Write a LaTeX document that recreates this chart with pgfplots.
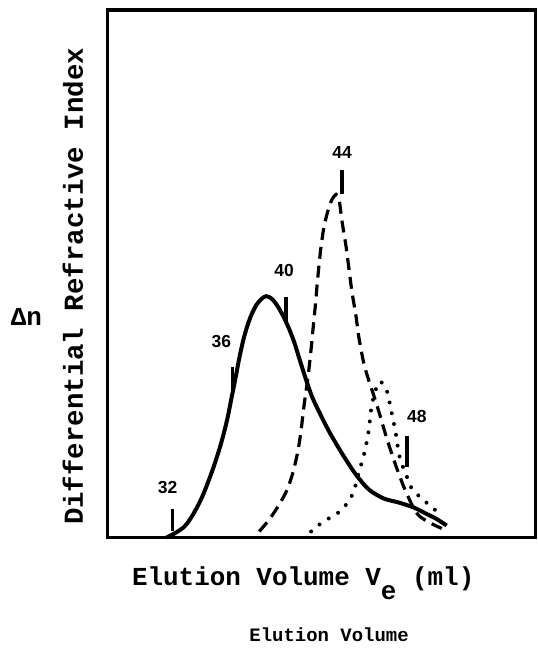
\documentclass[border=0pt]{standalone}
\usepackage{fontspec}
\setmainfont{Liberation Mono}
\newfontfamily\numfont{Liberation Sans}
\usepackage{pgfplots}
\pgfplotsset{compat=1.18}

% one unit = one pixel of the 539x648 reference, y counted up from the bottom line
\pgfplotstableread{
x y
167 0
175 4
185 11
193 22
202 39
210 59
217 79
223 99
228 119
232 139
236 159
240 180
244 198
248 212
252 223
257 233
262 239
267 242
273 239
279 231
285 220
290 209
295 196
300 180
307 158
313 141
320 126
327 112
333 101
345 81
357 63
370 48
385 39
400 35
415 30
427 24
437 19
448 12
}\solidcurve

\pgfplotstableread{
x y
260 6
270 18
280 33
288 48
294 66
299 88
302 108
305 133
309 162
312 189
314 210
316 230
318 253
320 274
322 292
325 312
329 328
333 339
337 344
340 339
343 317
347 292
350 269
353 246
357 222
360 200
365 174
370 157
375 142
380 126
388 99
397 72
407 46
420 22
443 9
}\dashedcurve

\pgfplotstableread{
x y
312 6
323 15
333 21
342 27
350 37
355 47
360 66
364 79
367 92
370 109
372 127
375 142
380 156
385 153
388 147
391 134
394 119
397 104
400 84
404 71
408 61
413 49
423 39
437 27
442 21
}\dottedcurve

\begin{document}
\begin{tikzpicture}
\begin{axis}[
  x=0.5pt, y=0.5pt,
  xmin=108, xmax=537,
  ymin=0, ymax=529,
  xtick=\empty, ytick=\empty,
  axis line style={line width=1.8pt},
  clip=false,
  xlabel={\bfseries Elution Volume V\raisebox{-0.55em}{e} (ml)},
  xlabel style={font=\fontsize{13}{15}\selectfont, at={(axis description cs:0.457,-0.0907)}, anchor=base},
  ylabel={\bfseries Differential Refractive Index},
  ylabel style={font=\fontsize{13.75}{16}\selectfont, at={(axis description cs:-0.058,0.476)}, anchor=base},
]
  \path (axis cs:0,-109) rectangle (axis cs:539,539);

  \addplot[black, line width=2pt, smooth, tension=0.5] table {\solidcurve};
  \addplot[black, line width=1.6pt, smooth, tension=0.5, dash pattern=on 6pt off 3.5pt] table {\dashedcurve};
  \addplot[black, line width=2pt, smooth, tension=0.5, line cap=round, dash pattern=on 0pt off 5.5pt] table {\dottedcurve};

  % volume markers
  \addplot[black, line width=1.7pt] coordinates {(173,6) (173,29)};
  \addplot[black, line width=1.7pt] coordinates {(233,141) (233,171)};
  \addplot[black, line width=1.7pt] coordinates {(287,216) (287,241)};
  \addplot[black, line width=1.7pt] coordinates {(343,344) (343,369)};
  \addplot[black, line width=1.7pt] coordinates {(408,71) (408,102)};

  \node[anchor=base, font=\numfont\bfseries\fontsize{8.75}{10}\selectfont] at (axis cs:168,44) {32};
  \node[anchor=base, font=\numfont\bfseries\fontsize{8.75}{10}\selectfont] at (axis cs:222,191) {36};
  \node[anchor=base, font=\numfont\bfseries\fontsize{8.75}{10}\selectfont] at (axis cs:285,262) {40};
  \node[anchor=base, font=\numfont\bfseries\fontsize{8.75}{10}\selectfont] at (axis cs:343,380) {44};
  \node[anchor=base, font=\numfont\bfseries\fontsize{8.75}{10}\selectfont] at (axis cs:418,115) {48};

  \node[anchor=base, font=\bfseries\fontsize{13}{15}\selectfont] at (axis cs:26.5,213) {Δn};
  \node[anchor=base, font=\bfseries\fontsize{9.5}{11}\selectfont] at (axis cs:330,-104) {Elution Volume};
\end{axis}
\end{tikzpicture}
\end{document}
